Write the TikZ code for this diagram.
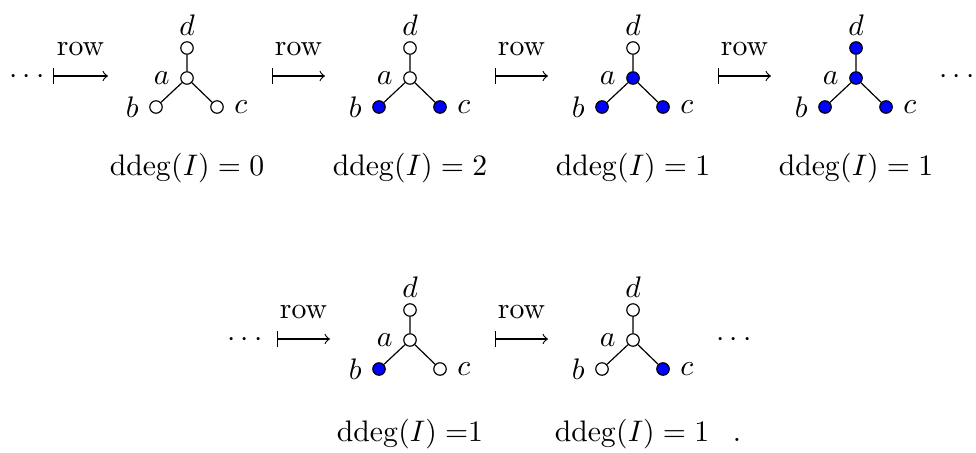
\documentclass[tikz,border=0pt]{standalone}
\usetikzlibrary{arrows}
\begin{document}
\begin{tikzpicture}[x=0.3367pt,y=-0.3367pt,
  vtx/.style={circle,draw,fill=white,inner sep=0pt,minimum size=4.2pt,line width=0.4pt},
  sel/.style={vtx,fill=blue},
  gedge/.style={line width=0.4pt},
  maparrow/.style={|-to,line width=0.4pt},
  rowlab/.style={above=6.5pt,inner sep=0pt},
  mathlab/.style={anchor=base,inner sep=0pt}]
\useasboundingbox (0,0) rectangle (976,452);
\newcommand\stargraph[7]{%
  \node[#4,label={left:$a$}] (#1a) at (#2,#3) {};
  \node[#5,label={left:$b$}] (#1b) at (#2-31,#3+29) {};
  \node[#6,label={right:$c$}] (#1c) at (#2+30,#3+29) {};
  \node[#7,label={[label distance=-1.5pt]above:$d$}] (#1d) at (#2,#3-30) {};
  \draw[gedge] (#1a) -- (#1b) (#1a) -- (#1c) (#1a) -- (#1d);
}
% ---------- top row ----------
\node[mathlab] (dl1) at (27,83) {$\cdots$};
\node[mathlab] (dr1) at (957,83) {$\cdots$};
\stargraph{g1}{187}{78}{vtx}{vtx}{vtx}{vtx}
\stargraph{g2}{410}{78}{vtx}{sel}{sel}{vtx}
\stargraph{g3}{633}{78}{sel}{sel}{sel}{vtx}
\stargraph{g4}{856}{78}{sel}{sel}{sel}{sel}
\coordinate (s1) at (53,76);  \coordinate (e1) at (108,76);
\coordinate (s2) at (272,76); \coordinate (e2) at (325,76);
\coordinate (s3) at (495,76); \coordinate (e3) at (548,76);
\coordinate (s4) at (718,76); \coordinate (e4) at (771,76);
\draw[maparrow] (s1) -- node[rowlab] (r1) {row} (e1);
\draw[maparrow] (s2) -- node[rowlab] (r2) {row} (e2);
\draw[maparrow] (s3) -- node[rowlab] (r3) {row} (e3);
\draw[maparrow] (s4) -- node[rowlab] (r4) {row} (e4);
\node[mathlab] (t1) at (187,175) {$\mathrm{ddeg}(I) = 0$};
\node[mathlab] (t2) at (410,175) {$\mathrm{ddeg}(I) = 2$};
\node[mathlab] (t3) at (633,175) {$\mathrm{ddeg}(I) = 1$};
\node[mathlab] (t4) at (856,175) {$\mathrm{ddeg}(I) = 1$};
% ---------- bottom row ----------
\node[mathlab] (dl2) at (245,346) {$\cdots$};
\node[mathlab] (dr2) at (734,346) {$\cdots$};
\stargraph{g5}{410}{340}{vtx}{sel}{vtx}{vtx}
\stargraph{g6}{633}{340}{vtx}{vtx}{sel}{vtx}
\coordinate (s5) at (277,339); \coordinate (e5) at (330,339);
\coordinate (s6) at (495,339); \coordinate (e6) at (548,339);
\draw[maparrow] (s5) -- node[rowlab] (r5) {row} (e5);
\draw[maparrow] (s6) -- node[rowlab] (r6) {row} (e6);
\node[mathlab] (t5) at (410,441) {$\mathrm{ddeg}(I) =$1};
\node[mathlab] (t6) at (632,441) {$\mathrm{ddeg}(I) = 1$};
\node[mathlab] (per) at (737,441) {.};
\end{tikzpicture}
\end{document}
